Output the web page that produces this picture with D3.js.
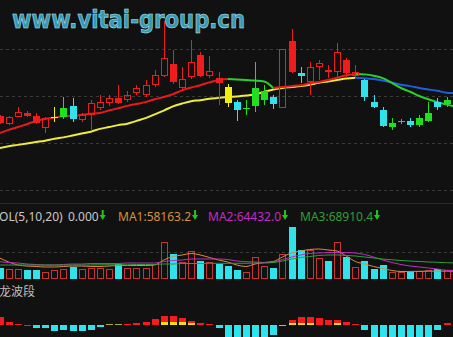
<!DOCTYPE html>
<html>
<head>
<meta charset="utf-8">
<script src="https://cdn.jsdelivr.net/npm/d3@7"></script>
<style>
  html, body { margin: 0; padding: 0; background: #111111; }
  svg { display: block; }
</style>
</head>
<body>
<div id="chart"></div>
<script>
// candle data, one entry per bar (last one is mostly off screen)
const opens  = [115.7,114.0,115.6,116.4,115.7,113.2,115.5,115.5,117.9,114.9,116.0,117.4,118.5,119.6,119.1,120.6,120.2,122.3,124.3,126.8,121.7,124.0,128.7,124.3,123.8,121.9,118.7,117.4,117.9,119.1,119.8,117.4,131.7,124.9,123.0,126.2,125.5,125.1,127.7,124.3,123.4,118.7,117.0,113.4,114.5,114.7,113.8,114.7,118.7,118.3,118.3];
const highs  = [116.0,115.7,117.7,116.8,116.4,115.5,117.7,119.8,119.6,116.4,119.1,120.2,120.2,122.3,121.1,122.3,123.4,125.5,136.0,129.8,126.2,131.9,129.4,128.5,125.1,122.6,119.1,119.1,127.2,122.3,120.2,130.0,134.3,126.2,127.2,127.7,126.6,131.3,128.1,126.6,123.6,120.2,117.7,115.3,115.1,115.3,116.0,118.7,119.6,119.8,119.1];
const lows   = [114.0,113.8,115.5,115.5,114.0,112.1,114.5,115.1,114.5,114.5,112.6,117.0,117.9,118.3,118.7,120.2,119.8,121.9,124.0,122.6,121.3,123.6,124.0,123.8,118.1,117.7,114.7,116.0,116.6,118.1,117.2,117.4,124.9,122.8,120.2,123.4,123.8,123.8,123.8,124.0,118.9,117.4,113.4,112.8,114.0,113.4,113.4,114.5,117.0,117.7,117.9];
const closes = [114.3,115.5,116.7,115.7,114.3,115.3,115.6,117.4,115.1,116.0,118.5,118.7,119.6,118.5,120.2,121.7,122.3,124.5,128.1,123.0,123.6,127.2,124.3,125.3,122.8,118.5,117.0,117.5,121.7,121.1,118.3,130.0,125.1,124.3,126.2,127.0,125.1,129.4,124.9,125.1,119.8,117.7,113.6,114.3,114.7,113.8,115.3,116.4,117.7,119.1,118.7];
// bar colour codes: r hollow red, R solid red, c cyan, g green, y yellow
const kinds  = ["R","r","r","R","R","r","y","g","c","r","r","r","r","R","r","r","r","r","r","R","r","r","R","r","R","y","c","g","g","g","c","r","R","c","r","r","R","r","R","r","c","c","c","g","g","c","g","g","c","g","g"];

const maFast = [112.1,112.8,113.4,114.0,114.7,115.1,115.4,115.7,115.8,116.0,116.2,116.4,116.9,117.4,117.9,118.3,118.7,119.3,119.8,120.4,121.2,121.8,122.3,122.9,123.4,123.6,123.5,123.4,123.3,123.1,121.7,121.9,122.1,122.3,122.7,123.0,123.4,123.9,124.4,124.7,124.6,124.3,123.8,122.8,121.7,120.9,120.0,119.3,118.7,118.2,117.7];
const maSlow = [108.9,109.3,109.6,109.9,110.2,110.5,110.9,111.2,111.6,112.0,112.4,113.0,113.4,113.8,114.1,114.7,115.3,116.1,116.9,117.8,118.4,118.9,119.1,119.4,119.6,119.8,119.9,120.1,120.3,120.9,121.4,121.7,121.9,122.1,122.4,122.8,123.1,123.4,123.7,123.9,123.8,123.6,123.3,122.9,122.4,122.1,121.7,121.4,121.1,120.7,120.6];

const volumes = [79000,74000,74000,67000,67000,54000,67000,74000,91000,74000,79000,79000,74000,111000,84000,79000,79000,109000,272000,183000,128000,210000,133000,124000,111000,96000,67000,54000,161000,96000,79000,185000,387000,215000,215000,153000,133000,276000,161000,87000,133000,74000,104000,54000,54000,54000,59000,67000,74000,67000,60000];
const volMa1 = [155500,125900,103700,96300,92600,88900,88900,92600,96300,96300,92600,92600,96300,100000,100000,100000,100000,103700,140700,166700,177800,188900,177800,159300,140700,125900,103700,92600,111100,122200,129600,163000,192600,207400,218500,222200,214800,207400,170400,129600,111100,92600,77800,63000,55600,56000,57000,57500,58000,58200,58200];
const volMa2 = [128100,122200,118500,111100,107400,103700,103700,107400,111100,111100,114800,114800,114800,114800,118500,118500,118500,118500,129600,137000,140700,148100,148100,148100,148100,144400,133300,128100,125900,122200,125900,144400,163000,177800,188900,192600,196300,196300,196300,192600,181500,163000,140700,122200,107400,96300,88900,81500,74100,64400,63000];
const volMa3 = [103700,103700,103700,103700,103700,103700,103700,103700,103700,103700,103700,105200,105200,105200,105200,107400,107400,107400,111100,111100,114800,114800,114800,116300,116300,116300,116300,116300,118500,118500,122200,133300,148100,159300,166700,174100,177800,177800,174100,170400,163000,155500,148100,142200,137000,133300,129600,125900,123700,120700,118500];

const waveMain = [1.08,0.45,0.13,0.04,-0.30,-0.34,-0.71,-0.59,-0.71,-0.71,-0.59,-0.25,0.00,0.00,0.13,0.25,0.45,0.79,1.20,1.20,0.88,0.54,0.25,0.13,-0.34,-1.50,-1.60,-1.60,-1.60,-1.55,-1.21,-0.10,0.66,1.08,1.08,0.95,0.66,0.66,0.45,0.16,-0.59,-1.50,-1.60,-1.60,-1.60,-1.60,-1.55,-1.50,-0.59,0.29,0.30];
const waveYellow = [0,0,0,0,0,0,0,0,0,0,0,0,0.12,0.12,0,0,0,0,0.38,0.38,0.38,0.25,0,0,0,0,0,0,0,0,0,0,0.30,0.30,0.30,0,0,0.30,0,0,0,0,0,0,0,0,0,0,0,0,0];

const priceTicks = [100, 110, 120, 130];
const volTicks = [200000];
const volLabels = [
  { text: "VOL(5,10,20)", color: "#c8c8c8", arrow: false },
  { text: "0.000", color: "#c8c8c8", arrow: true },
  { text: "MA1:58163.2", color: "#d4913c", arrow: true },
  { text: "MA2:64432.0", color: "#c22cc4", arrow: true },
  { text: "MA3:68910.4", color: "#2f9f35", arrow: true }
];
const volLabelX = [-8, 68, 118, 208, 300];

const W = 453, H = 337;
const svg = d3.select("#chart").append("svg")
  .attr("width", W).attr("height", H)
  .style("background", "#111111");

const idx = d3.range(opens.length);
const x = d3.scaleLinear().domain([0, 49]).range([-0.4, 446.6]);
const y = d3.scaleLinear().domain([100, 130]).range([190, 49]);
const yVol = d3.scaleLinear().domain([0, 200000]).range([279, 252]);
const yWave = d3.scaleLinear().domain([0, 1]).range([325.3, 317.3]);

const colors = { r: "#f01c1c", R: "#f01c1c", c: "#2fe3ec", g: "#1fe01f", y: "#f2ee10" };

// watermark
svg.append("text")
  .attr("x", 12).attr("y", 28)
  .attr("textLength", 233).attr("lengthAdjust", "spacingAndGlyphs")
  .attr("font-family", "DejaVu Sans").attr("font-weight", "bold")
  .attr("font-size", 25)
  .attr("fill", "#3499b6").attr("stroke", "#bde6ef").attr("stroke-width", 0.6)
  .text("www.vitai-group.cn");

// grid
svg.append("g").selectAll("line").data(priceTicks).join("line")
  .attr("x1", 0).attr("x2", W)
  .attr("y1", d => Math.round(y(d)) + 0.5).attr("y2", d => Math.round(y(d)) + 0.5)
  .attr("stroke", "#3a3a3a").attr("stroke-dasharray", "3,3");
svg.append("line").attr("x1", 0).attr("x2", W).attr("y1", 203.5).attr("y2", 203.5)
  .attr("stroke", "#2a2a2a");
svg.append("g").selectAll("line").data(volTicks).join("line")
  .attr("x1", 0).attr("x2", W)
  .attr("y1", d => Math.round(yVol(d)) + 0.5).attr("y2", d => Math.round(yVol(d)) + 0.5)
  .attr("stroke", "#3a3a3a").attr("stroke-dasharray", "3,3");

// moving averages coloured by direction
function runs(vals) {
  let out = [];
  for (let i = 1; i < vals.length; i++) {
    let up = vals[i] >= vals[i - 1];
    let last = out[out.length - 1];
    if (last && last.up === up) last.pts.push(i);
    else out.push({ up: up, pts: [i - 1, i] });
  }
  return out;
}
function drawMa(vals, upColor, downColor) {
  let line = d3.line().x(i => x(i)).y(i => y(vals[i])).curve(d3.curveMonotoneX);
  svg.append("g").selectAll("path").data(runs(vals)).join("path")
    .attr("d", d => line(d.pts))
    .attr("fill", "none")
    .attr("stroke", d => d.up ? upColor : downColor)
    .attr("stroke-width", 2);
}
drawMa(maSlow, "#f0ec3c", "#1f5fdc");
drawMa(maFast, "#e81a1a", "#2ccf2c");

// candles
const cg = svg.append("g").attr("shape-rendering", "crispEdges");
idx.forEach(i => {
  let cx = Math.round(x(i));
  let top = Math.round(y(Math.max(opens[i], closes[i])));
  let bot = Math.round(y(Math.min(opens[i], closes[i])));
  if (bot - top < 1) bot = top + 1;
  let hi = Math.round(y(highs[i])), lo = Math.round(y(lows[i]));
  let col = colors[kinds[i]];
  cg.append("line").attr("x1", cx + 0.5).attr("x2", cx + 0.5)
    .attr("y1", hi).attr("y2", top).attr("stroke", col);
  cg.append("line").attr("x1", cx + 0.5).attr("x2", cx + 0.5)
    .attr("y1", bot).attr("y2", lo).attr("stroke", col);
  if (kinds[i] === "r") {
    cg.append("rect").attr("x", cx - 2.5).attr("y", top + 0.5)
      .attr("width", 6).attr("height", Math.max(1, bot - top - 1))
      .attr("fill", "none").attr("stroke", col);
  } else {
    cg.append("rect").attr("x", cx - 3).attr("y", top)
      .attr("width", 7).attr("height", bot - top).attr("fill", col);
  }
});

// volume bars
const vg = svg.append("g").attr("shape-rendering", "crispEdges");
idx.forEach(i => {
  let cx = Math.round(x(i));
  let t = Math.round(yVol(volumes[i]));
  if (closes[i] >= opens[i]) {
    vg.append("rect").attr("x", cx - 2.5).attr("y", t + 0.5)
      .attr("width", 6).attr("height", 279 - t - 1)
      .attr("fill", "none").attr("stroke", "#c83434");
  } else {
    vg.append("rect").attr("x", cx - 3).attr("y", t)
      .attr("width", 7).attr("height", 279 - t).attr("fill", "#30e2ea");
  }
});

[[volMa1, "#d4913c"], [volMa2, "#c22cc4"], [volMa3, "#2f9f35"]].forEach(([vals, c]) => {
  svg.append("path")
    .attr("d", d3.line().x(i => x(i)).y(i => yVol(vals[i])).curve(d3.curveMonotoneX)(idx))
    .attr("fill", "none").attr("stroke", c).attr("stroke-width", 1);
});

// volume header
const lab = svg.append("g").attr("font-family", "Noto Sans").attr("font-size", 12);
volLabels.forEach((d, k) => {
  let t = lab.append("text").attr("x", volLabelX[k]).attr("y", 221)
    .attr("fill", d.color).text(d.text);
  if (d.arrow) {
    let ax = volLabelX[k] + t.node().getComputedTextLength() + 4;
    lab.append("path")
      .attr("d", `M${ax - 1},210 h2 v5 h2 l-3,5 l-3,-5 h2 z`)
      .attr("fill", "#1cc81c");
  }
});

// wave panel
svg.append("text").attr("x", -1).attr("y", 296)
  .attr("font-family", "Noto Sans CJK SC").attr("font-size", 12)
  .attr("fill", "#bdbdbd").text("龙波段");

const wg = svg.append("g").attr("shape-rendering", "crispEdges");
idx.forEach(i => {
  let cx = Math.round(x(i));
  let v = waveMain[i];
  if (v === 0) return;
  let a = yWave(v), b = yWave(0);
  wg.append("rect").attr("x", cx - 3).attr("y", Math.min(a, b))
    .attr("width", 7).attr("height", Math.max(1, Math.abs(b - a)))
    .attr("fill", v > 0 ? "#f41c1c" : "#2fe3ec");
});
idx.forEach(i => {
  if (!waveYellow[i]) return;
  let cx = Math.round(x(i));
  let a = yWave(waveYellow[i]), b = yWave(0);
  wg.append("rect").attr("x", cx - 3).attr("y", a)
    .attr("width", 7).attr("height", Math.max(1, b - a))
    .attr("fill", waveMain[i] > 0 ? "#f6de10" : "#a8a83a");
});
</script>
</body>
</html>
